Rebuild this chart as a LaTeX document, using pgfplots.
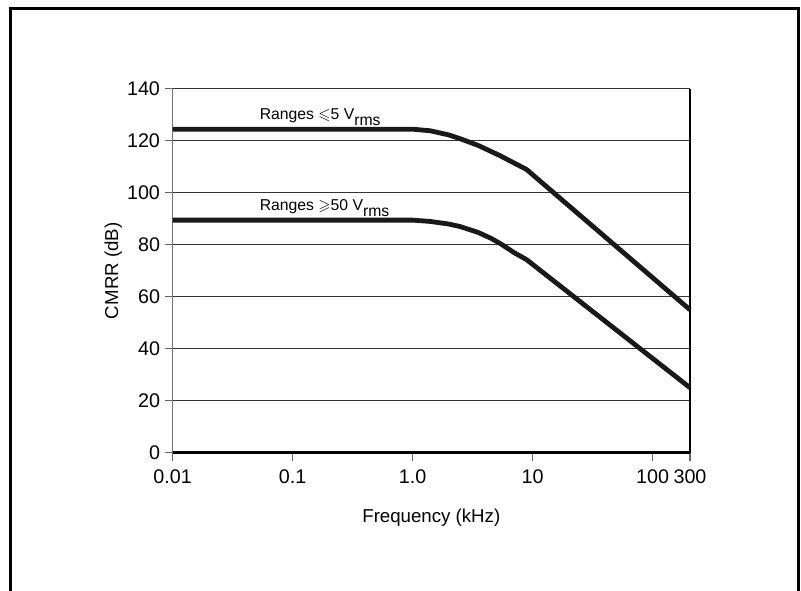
\documentclass[border=0pt]{standalone}
\usepackage{amssymb}
\usepackage{pgfplots}
\pgfplotsset{compat=1.18}
\usepackage{fontspec}
\setmainfont{Liberation Sans}
\begin{document}
\begin{tikzpicture}
\path[use as bounding box] (0,0) rectangle (600.75pt,-443.25pt);
\draw[line width=2.25pt, line cap=rect] (7.9pt,-443.25pt) -- (7.9pt,-6.2pt) -- (599.2pt,-6.2pt) -- (599.2pt,-443.25pt);
\begin{axis}[
  at={(129.5pt,-339.5pt)}, anchor=south west,
  scale only axis, width=388pt, height=272.8pt,
  xmode=log, xmin=0.01, xmax=204.8,
  ymin=0, ymax=140,
  xtick={0.01,0.1,1,10,100,204.8},
  xticklabels={0.01,0.1,1.0,10,100,300},
  ytick={0,20,40,60,80,100,120,140},
  xminorticks=false,
  xtick pos=bottom, ytick pos=left,
  tick align=outside, major tick length=6pt,
  tick style={line width=0.8pt, color=black!60},
  ymajorgrids, grid style={line width=0.8pt, color=black!80},
  axis line style={draw=none},
  /pgf/number format/assume math mode=true,
  tick label style={font=\fontsize{14.8}{16}\selectfont},
  label style={font=\fontsize{14}{16}\selectfont},
  xlabel={Frequency (kHz)}, ylabel={CMRR (dB)},
  xticklabel style={yshift=-3.5pt},
  xlabel style={yshift=-12pt},
  ylabel style={yshift=-3pt},
  clip=false,
]
\draw[black!55, line width=0.8pt] (rel axis cs:0,0) -- (rel axis cs:0,1);
\draw[black, line width=1.2pt] (rel axis cs:1,0) -- (rel axis cs:1,1);
\draw[black, line width=1.9pt] (rel axis cs:0,0) -- (rel axis cs:1,0);
\addplot[line width=3.6pt, color=black!90, line join=round] coordinates {
(0.01,124.5) (1.0,124.5) (1.4,123.9) (2.0,122.3) (2.5,120.8) (3.5,118.3) (5.3,114.4) (7.0,111.5) (8.9,109) (204.8,55)
};
\addplot[line width=3.6pt, color=black!90, line join=round] coordinates {
(0.01,89.5) (1,89.5) (1.4,89) (2,88) (2.5,87) (3.5,84.8) (4.5,82.5) (5.5,80.2) (7,77) (8.9,74.3) (204.8,25)
};
\node[anchor=base west, inner sep=0pt, font=\fontsize{11.8}{13}\selectfont] at (axis cs:0.053,128.2) {Ranges $\leqslant$5 V\raisebox{-0.4em}{rms}};
\node[anchor=base west, inner sep=0pt, font=\fontsize{11.8}{13}\selectfont] at (axis cs:0.053,93.4) {Ranges $\geqslant$50 V\raisebox{-0.4em}{rms}};
\end{axis}
\end{tikzpicture}
\end{document}
